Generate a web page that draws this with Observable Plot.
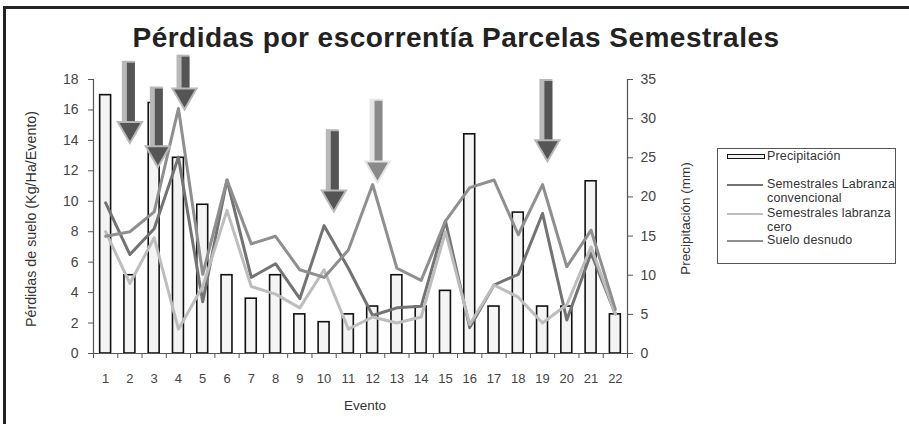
<!DOCTYPE html>
<html>
<head>
<meta charset="utf-8">
<script src="https://cdn.jsdelivr.net/npm/d3@7"></script>
<script src="https://cdn.jsdelivr.net/npm/@observablehq/plot@0.6"></script>
<style>
  html, body { margin: 0; padding: 0; background: #fff; }
  #wrap { position: relative; width: 909px; height: 424px; overflow: hidden; font-family: "Liberation Sans", Arial, sans-serif; color: #333; }
  #frame { position: absolute; left: 3px; top: 6px; width: 940px; height: 440px; border-left: 3px solid #222; border-top: 3px solid #222; pointer-events: none; }
  #title { position: absolute; top: 22px; white-space: nowrap; font: bold 28px "Liberation Sans", Arial, sans-serif; color: #222; }
  .ylab { position: absolute; font-size: 13.5px; color: #333; white-space: nowrap; transform-origin: center center; }
  #ylabL { font-size: 14.3px; }
  #xlab { position: absolute; top: 398px; left: 340px; width: 50px; text-align: center; font-size: 13.5px; color: #333; }
  #legend { position: absolute; left: 717px; top: 148px; width: 177px; height: 114px; border: 1px solid #555; font-size: 12.5px; color: #333; }
  .lg { position: absolute; left: 49px; line-height: 14px; white-space: nowrap; letter-spacing: 0.15px; }
  .sw { position: absolute; left: 9px; width: 36px; }
</style>
</head>
<body>
<div id="wrap">
  <div id="chart"></div>
  <div id="frame"></div>
  <div id="title">Pérdidas por escorrentía Parcelas Semestrales</div>
  <div class="ylab" id="ylabL">Pérdidas de suelo (Kg/Ha/Evento)</div>
  <div class="ylab" id="ylabR">Precipitación (mm)</div>
  <div id="xlab">Evento</div>
  <div id="legend"></div>
</div>
<script>
// ---- data ----
const events = [1,2,3,4,5,6,7,8,9,10,11,12,13,14,15,16,17,18,19,20,21,22];
const precipitacion = [33,10,32,25,19,10,7,10,5,4,5,6,10,6,8,28,6,18,6,6,22,5];
const labranzaConvencional = [9.9,6.5,8.2,12.9,3.4,11.4,5.0,5.9,3.6,8.4,5.6,2.5,3.0,3.1,8.7,1.7,4.5,5.2,9.2,2.2,6.6,2.6];
const labranzaCero = [8.0,4.6,7.6,1.6,4.4,9.4,4.4,3.9,3.0,5.5,1.6,2.4,2.0,2.4,8.0,1.9,4.5,3.7,2.0,3.2,7.0,2.6];
const sueloDesnudo = [7.7,8.0,9.3,16.1,5.2,11.4,7.2,7.7,5.5,5.0,6.8,11.1,5.6,4.8,8.7,10.9,11.4,7.8,11.1,5.7,8.1,2.9];
const leftTicks = [0,2,4,6,8,10,12,14,16,18];
const rightTicks = [0,5,10,15,20,25,30,35];
const legendLabels = [["Precipitación"], ["Semestrales Labranza", "convencional"], ["Semestrales labranza", "cero"], ["Suelo desnudo"]];
// annotation arrows (event position, top and tip in soil-loss units)
const arrowEvent = [2, 3.15, 4.25, 10.4, 12.2, 19.2];
const arrowTop = [19.2, 17.5, 19.6, 14.7, 16.7, 18.0];
const arrowTip = [13.9, 12.3, 16.1, 9.4, 11.3, 12.7];
const arrowHatched = [false, false, false, false, true, false];

const yMax = 18, pMax = 35;
const toLeft = v => v * yMax / pMax;

const rows = events.map((e, i) => ({e, p: precipitacion[i], c: labranzaConvencional[i], z: labranzaCero[i], s: sueloDesnudo[i]}));
const arrows = arrowEvent.map((x, i) => ({x, top: arrowTop[i], tip: arrowTip[i], h: arrowHatched[i]}));
const boundaries = [0.5, ...events.map(e => e + 0.5)];

const colC = "#737373", colZ = "#bdbdbd", colS = "#8f8f8f";

const chart = Plot.plot({
  width: 909, height: 424,
  marginLeft: 93, marginRight: 282, marginTop: 79, marginBottom: 71,
  x: {domain: [0.5, 22.5], axis: null},
  y: {domain: [0, yMax], axis: null},
  style: {fontFamily: "Liberation Sans, Arial, sans-serif", fontSize: "14px", color: "#333", background: "transparent"},
  marks: [
    Plot.rectY(rows, {x1: d => d.e - 0.225, x2: d => d.e + 0.225, y: d => toLeft(d.p), fill: "#f4f4f4", stroke: "#111", strokeWidth: 1.6}),
    Plot.line(rows, {x: "e", y: "c", stroke: colC, strokeWidth: 3}),
    Plot.line(rows, {x: "e", y: "z", stroke: colZ, strokeWidth: 3}),
    Plot.line(rows, {x: "e", y: "s", stroke: colS, strokeWidth: 3}),
    // axes
    Plot.ruleX([0.5], {stroke: "#555", strokeWidth: 1.2}),
    Plot.ruleX([22.5], {stroke: "#555", strokeWidth: 1.2}),
    Plot.ruleY([0], {stroke: "#555", strokeWidth: 1.2}),
    Plot.axisY(leftTicks, {anchor: "left", tickSize: 5, tickPadding: 10, label: null, stroke: "#555", fill: "#444", fontSize: 14}),
    Plot.axisY(rightTicks.map(toLeft), {anchor: "right", tickSize: 5, tickPadding: 8, label: null, tickFormat: d => Math.round(d * pMax / yMax), stroke: "#555", fill: "#444", fontSize: 14}),
    Plot.axisX(boundaries, {anchor: "bottom", tickSize: 5, tickFormat: () => "", label: null, stroke: "#555"}),
    Plot.axisX(events, {anchor: "bottom", tickSize: 0, tickPadding: 20, label: null, fill: "#444", fontSize: 13}),
    // arrows
    Plot.ruleX(arrows, {x: "x", y1: "top", y2: "tip", dx: -1.5, stroke: d => d.h ? "#e4e4e4" : "#b8b8b8", strokeWidth: 13, insetBottom: 14}),
    Plot.ruleX(arrows, {x: "x", y1: "top", y2: "tip", dx: 1, stroke: d => d.h ? "#8a8a8a" : "#555", strokeWidth: 8, insetTop: 2, insetBottom: 14}),
    Plot.dot(arrows, {x: "x", y: "tip", symbol: "triangle", rotate: 180, r: 9, dy: -13, fill: d => d.h ? "#8a8a8a" : "#555", stroke: d => d.h ? "#e4e4e4" : "#b8b8b8", strokeWidth: 2})
  ]
});
document.getElementById("chart").appendChild(chart);

// title: fit to the reference width, centred
const T = document.getElementById("title");
const targetW = 647, chars = T.textContent.length;
const w0 = T.getBoundingClientRect().width;
T.style.letterSpacing = ((targetW - w0) / chars) + "px";
const w1 = T.getBoundingClientRect().width;
T.style.left = (456 - w1 / 2) + "px";

// rotated axis titles
const L = document.getElementById("ylabL");
L.style.left = (31 - L.offsetWidth / 2) + "px";
L.style.top = (219 - L.offsetHeight / 2) + "px";
L.style.transform = "rotate(-90deg)";
const R = document.getElementById("ylabR");
R.style.left = (685 - R.offsetWidth / 2) + "px";
R.style.top = (218 - R.offsetHeight / 2) + "px";
R.style.transform = "rotate(-90deg)";

// legend
const lg = document.getElementById("legend");
const items = [
  {type: "bar", label: legendLabels[0], y: 8},
  {type: "line", color: colC, label: legendLabels[1], y: 36},
  {type: "line", color: colZ, label: legendLabels[2], y: 65},
  {type: "line", color: colS, label: legendLabels[3], y: 92}
];
items.forEach(it => {
  const sw = document.createElement("div");
  sw.className = "sw";
  if (it.type === "bar") {
    sw.style.top = (it.y - 3) + "px";
    sw.style.height = "3px";
    sw.style.border = "1.5px solid #111";
    sw.style.background = "#f2f2f2";
  } else {
    sw.style.top = (it.y - 1) + "px";
    sw.style.height = "2px";
    sw.style.background = it.color;
  }
  lg.appendChild(sw);
  it.label.forEach((t, j) => {
    const d = document.createElement("div");
    d.className = "lg";
    d.style.top = (it.y - 8 + j * 14) + "px";
    d.textContent = t;
    lg.appendChild(d);
  });
});
</script>
</body>
</html>
